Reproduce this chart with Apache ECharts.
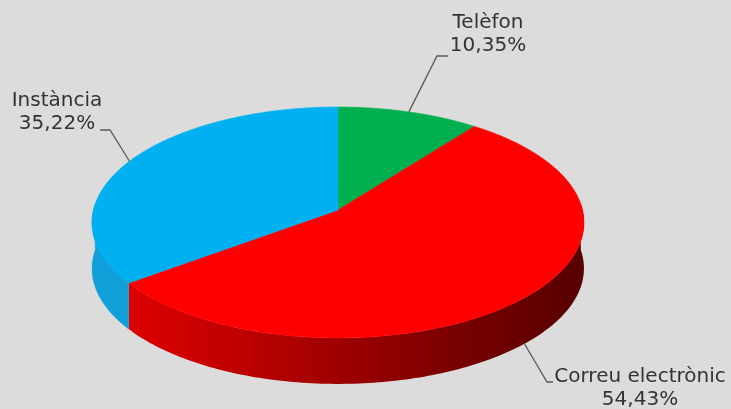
<!DOCTYPE html>
<html>
<head>
<meta charset="utf-8">
<script src="https://cdn.jsdelivr.net/npm/echarts@6/dist/echarts.min.js"></script>
<style>
html,body{margin:0;padding:0;background:#dcdcdc;}
#chart{width:731px;height:409px;}
</style>
</head>
<body>
<div id="chart"></div>
<script>
// ---- data ----
const categories = ['Telèfon', 'Correu electrònic', 'Instància'];
const values = [10.35, 54.43, 35.22];

// ---- styles / layout (not data) ----
const topColors = ['#00B050', '#FF0000', '#00B0F0'];
const sideFills = [
  '#008a3e',
  [{offset: 0, color: '#dd0000'}, {offset: 0.27, color: '#bb0000'}, {offset: 0.71, color: '#7a0000'}, {offset: 1, color: '#560000'}],
  '#109fd9'
];
const geo = {cx: 338, cy: 210, rx: 244.5, ry: 114.1, k: 0.108, depth: 46};
// label block centre + leader elbow / end (label placement, like labelLayout)
const labelLayout = [
  {x: 488, y: 34, elbow: [437, 56], end: [448, 56]},
  {x: 640, y: 388, elbow: [547, 382], end: [553, 382]},
  {x: 57, y: 112, elbow: [110, 130], end: [100, 130]}
];

function proj(deg, h) {
  const t = deg * Math.PI / 180;
  const u = Math.sin(t), v = -Math.cos(t);
  const d = 1 - geo.k * v;
  return [geo.cx + geo.rx * u / d, geo.cy + geo.ry * v / d + (h || 0)];
}
function arc(a, b, h) {
  const pts = [];
  const n = Math.max(2, Math.ceil(Math.abs(b - a)));
  for (let i = 0; i <= n; i++) pts.push(proj(a + (b - a) * i / n, h));
  return pts;
}
function fmt(v) { return v.toFixed(2).replace('.', ',') + '%'; }

const chart = echarts.init(document.getElementById('chart'), null, {renderer: 'canvas'});

function renderItem(params, api) {
  const idx = params.dataIndex;
  const total = values.reduce((s, v) => s + v, 0);
  let start = 0;
  for (let j = 0; j < idx; j++) start += values[j] / total * 360;
  const end = start + api.value(0) / total * 360;
  const children = [];

  // side wall (front-facing part only)
  const s = Math.max(start, 87), e = Math.min(end, 273);
  if (e > s) {
    const pts = arc(s, e, 0).concat(arc(e, s, geo.depth));
    const sf = sideFills[idx];
    const fill = Array.isArray(sf) ? new echarts.graphic.LinearGradient(0, 0, 1, 0, sf) : sf;
    children.push({
      type: 'polygon', z2: 1,
      shape: {points: pts},
      style: {fill: fill, stroke: Array.isArray(sf) ? null : sf, lineWidth: 0.5}
    });
  }
  // top face
  children.push({
    type: 'polygon', z2: 2,
    shape: {points: [[geo.cx, geo.cy]].concat(arc(start, end, 0))},
    style: {fill: topColors[idx], stroke: topColors[idx], lineWidth: 0.6}
  });

  // label + leader line
  const mid = (start + end) / 2;
  const vmid = -Math.cos(mid * Math.PI / 180);
  const anchor = proj(mid, vmid > 0.3 ? geo.depth : 0);
  const L = labelLayout[idx];
  children.push({
    type: 'polyline', z2: 3,
    shape: {points: [anchor, L.elbow, L.end]},
    style: {stroke: '#5a5a5a', lineWidth: 1.3, fill: null}
  });
  children.push({
    type: 'text', z2: 4,
    style: {
      text: categories[idx] + '\n' + fmt(api.value(0)),
      x: L.x, y: L.y,
      align: 'center', verticalAlign: 'middle',
      fill: '#333333',
      font: '20px "DejaVu Sans", Verdana, sans-serif',
      lineHeight: 23
    }
  });
  return {type: 'group', children: children};
}

chart.setOption({
  backgroundColor: '#dcdcdc',
  animation: false,
  series: [{
    type: 'custom',
    coordinateSystem: 'none',
    renderItem: renderItem,
    data: values.map((v, i) => ({name: categories[i], value: [v]}))
  }]
});
</script>
</body>
</html>
